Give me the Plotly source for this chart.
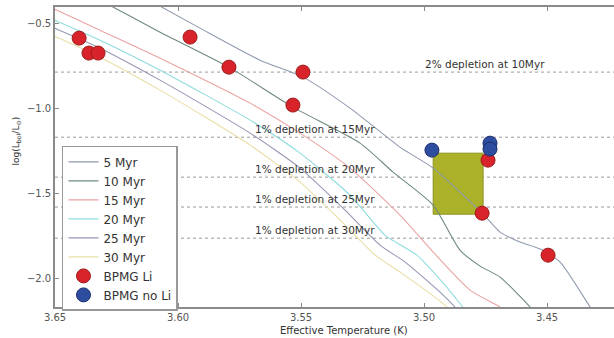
import plotly.graph_objects as go

# ---- data ----
ages = ["5 Myr", "10 Myr", "15 Myr", "20 Myr", "25 Myr", "30 Myr"]
iso_colors = ["#8f9aae", "#6f8a7c", "#eba3a3", "#8fdcdc", "#9696b4", "#e9dea6"]

teff_5 = [3.6154, 3.5911, 3.5667, 3.5492, 3.5301, 3.5098, 3.4963, 3.4764, 3.4691, 3.4610, 3.4528, 3.4447, 3.4325, 3.4285]
logl_5 = [-0.3353, -0.5294, -0.7176, -0.8176, -1.0, -1.2294, -1.3529, -1.6176, -1.7294, -1.7882, -1.8294, -1.9059, -2.1706, -2.2588]

teff_10 = [3.6439, 3.6317, 3.6073, 3.5793, 3.5533, 3.5260, 3.5126, 3.4963, 3.4854, 3.4772, 3.4691, 3.4569, 3.4528]
logl_10 = [-0.2765, -0.3647, -0.5529, -0.7588, -0.9941, -1.2059, -1.3765, -1.5706, -1.8353, -1.9294, -1.9941, -2.1706, -2.2471]

teff_15 = [3.6561, 3.6492, 3.6317, 3.6073, 3.5707, 3.5504, 3.5301, 3.5098, 3.4963, 3.4813, 3.4691, 3.4650]
logl_15 = [-0.3824, -0.4235, -0.5412, -0.7059, -0.9706, -1.1471, -1.3529, -1.6294, -1.8471, -2.0706, -2.1706, -2.2176]

teff_20 = [3.6561, 3.6492, 3.6317, 3.6073, 3.5707, 3.5504, 3.5301, 3.5159, 3.5029, 3.4915, 3.4842, 3.4813]
logl_20 = [-0.4471, -0.4882, -0.6000, -0.7765, -1.0706, -1.2647, -1.5118, -1.7471, -1.8647, -2.0412, -2.1706, -2.2176]

teff_25 = [3.6561, 3.6492, 3.6317, 3.6073, 3.5707, 3.5504, 3.5321, 3.5179, 3.5077, 3.4935, 3.4874, 3.4846]
logl_25 = [-0.4941, -0.5353, -0.6471, -0.8353, -1.1471, -1.3529, -1.6000, -1.8059, -1.9059, -2.0824, -2.1706, -2.2176]

teff_30 = [3.6561, 3.6492, 3.6317, 3.6073, 3.5707, 3.5504, 3.5341, 3.5199, 3.5098, 3.4967, 3.4906, 3.4874]
logl_30 = [-0.5412, -0.5824, -0.7000, -0.8941, -1.2176, -1.4353, -1.6588, -1.8647, -1.9647, -2.1000, -2.1706, -2.2176]

li_teff = [3.6402, 3.6362, 3.6325, 3.5951, 3.5793, 3.5492, 3.5533, 3.4740, 3.4764, 3.4496]
li_logl = [-0.588, -0.676, -0.676, -0.582, -0.759, -0.788, -0.982, -1.306, -1.618, -1.865]

noli_teff = [3.4968, 3.4732, 3.4732]
noli_logl = [-1.247, -1.206, -1.241]

depl_levels = [-0.788, -1.171, -1.406, -1.582, -1.765]
depl_labels = ["2% depletion at 10Myr", "1% depletion at 15Myr", "1% depletion at 20Myr",
               "1% depletion at 25Myr", "1% depletion at 30Myr"]
depl_label_teff = [3.5004, 3.5695, 3.5695, 3.5695, 3.5695]

box_teff = [3.4963, 3.4760]
box_logl = [-1.624, -1.265]

x_range = [3.65, 3.4228]
y_range = [-2.17, -0.405]
x_ticks = [3.65, 3.60, 3.55, 3.50, 3.45]
y_ticks = [-0.5, -1.0, -1.5, -2.0]

FONT = "DejaVu Sans"

fig = go.Figure()

iso_x = [teff_5, teff_10, teff_15, teff_20, teff_25, teff_30]
iso_y = [logl_5, logl_10, logl_15, logl_20, logl_25, logl_30]
for name, col, xs, ys in zip(ages, iso_colors, iso_x, iso_y):
    fig.add_trace(go.Scatter(x=xs, y=ys, mode="lines", name=name,
                             line=dict(color=col, width=1.1, shape="spline", smoothing=0.6)))

fig.add_trace(go.Scatter(x=li_teff, y=li_logl, mode="markers", name="BPMG Li",
                         marker=dict(size=14, color="#d9232a", line=dict(color="#9a1a1a", width=1))))
fig.add_trace(go.Scatter(x=noli_teff, y=noli_logl, mode="markers", name="BPMG no Li",
                         marker=dict(size=14, color="#2d4e9e", line=dict(color="#1d2e6e", width=1))))

# dotted depletion lines
for lev in depl_levels:
    fig.add_shape(type="line", xref="paper", x0=0, x1=1, yref="y", y0=lev, y1=lev,
                  line=dict(color="#9a9a9a", width=1, dash="dot"), layer="below")

for lev, lab, tx in zip(depl_levels, depl_labels, depl_label_teff):
    fig.add_annotation(x=tx, y=lev, text=lab, showarrow=False, xanchor="left", yanchor="bottom",
                       yshift=0, font=dict(family=FONT, size=10.5, color="#333333"))

# olive box
fig.add_shape(type="rect", x0=box_teff[0], x1=box_teff[1], y0=box_logl[0], y1=box_logl[1],
              fillcolor="#abb22a", line=dict(color="#8d921f", width=1), layer="below")

fig.add_annotation(xref="paper", yref="paper", x=0.517, y=-0.077, text="Effective Temperature (K)",
                   showarrow=False, xanchor="center", yanchor="middle",
                   font=dict(family=FONT, size=10, color="#333333"))
fig.add_annotation(xref="paper", yref="paper", x=-0.068, y=0.555,
                   text="log(L<sub>bol</sub>/L<sub>\u2299</sub>)", textangle=-90,
                   showarrow=False, xanchor="center", yanchor="middle",
                   font=dict(family=FONT, size=9, color="#333333"))

fig.update_layout(
    width=614, height=338,
    margin=dict(l=55, r=0, t=7, b=31),
    paper_bgcolor="white", plot_bgcolor="white",
    font=dict(family=FONT, size=10, color="#444444"),
    showlegend=True,
    legend=dict(x=0.0125, y=0.537, xanchor="left", yanchor="top",
                bgcolor="white", bordercolor="#999999", borderwidth=1.5,
                font=dict(family=FONT, size=12, color="#333333"),
                tracegroupgap=0, itemwidth=30),
)
fig.update_xaxes(range=x_range, tickvals=x_ticks, tickformat=".2f", showgrid=False, zeroline=False,
                 showline=True, linecolor="#8a8a8a", linewidth=1.5, mirror="ticks",
                 ticks="inside", ticklen=4, tickcolor="#8a8a8a",
                 tickfont=dict(family=FONT, size=10, color="#555555"))
fig.update_yaxes(range=y_range, tickvals=y_ticks, tickformat=".1f", showgrid=False, zeroline=False,
                 showline=True, linecolor="#8a8a8a", linewidth=1.5, mirror=False,
                 ticks="inside", ticklen=4, tickcolor="#8a8a8a",
                 tickfont=dict(family=FONT, size=10, color="#555555"))

fig.write_html("out.html")
